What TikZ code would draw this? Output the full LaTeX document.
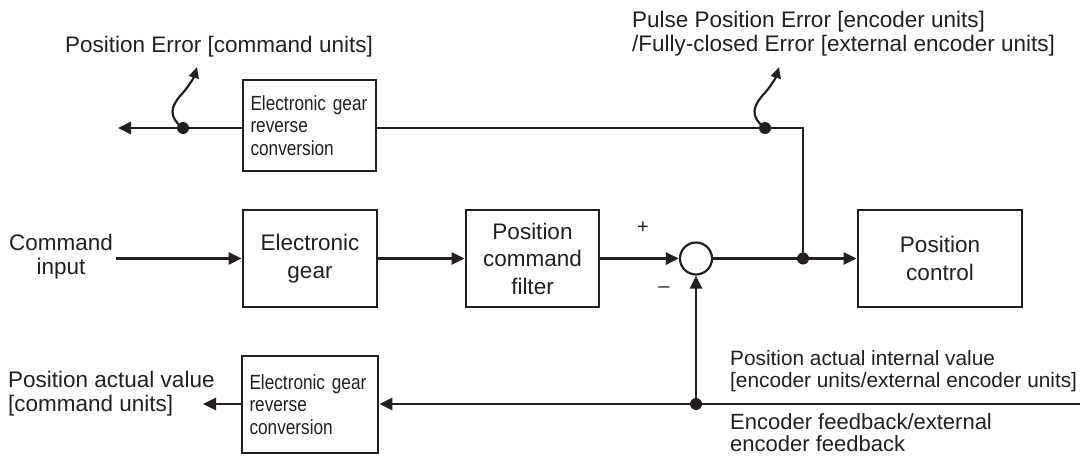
\documentclass[tikz,border=0pt]{standalone}
\usepackage{fontspec}
\setmainfont{Liberation Sans}
\newfontfamily\narrowfont[FakeStretch=0.84]{Liberation Sans}
\usetikzlibrary{arrows.meta}
\definecolor{ink}{HTML}{231F20}
\begin{document}
\begin{tikzpicture}[x=1pt,y=-1pt,
  every node/.style={text=ink},
  ln/.style={draw=ink,line width=2.8pt},
  arr/.style={ln,-{Triangle[length=13pt,width=12pt]}},
  sq/.style={draw=ink,line width=2.2pt,-{Triangle[length=11pt,width=10pt]}},
  blockbox/.style={draw=ink,line width=2.8pt,inner sep=0pt,align=center,
    font=\fontsize{22.5}{27.5}\selectfont},
  smallbox/.style={draw=ink,line width=2.8pt,inner sep=0pt,align=left,
    font=\narrowfont\fontsize{20.5}{22.5}\selectfont},
  lbl/.style={inner sep=0pt,font=\fontsize{22.5}{24}\selectfont},
  jdot/.style={circle,fill=ink,inner sep=0pt,minimum size=12pt},
]
\useasboundingbox (0,0) rectangle (1086,466);

% main row blocks
\node[blockbox,minimum width=134pt,minimum height=97pt] (eg) at (310,258.5) {Electronic\\gear};
\node[blockbox,minimum width=133pt,minimum height=97pt] (pcf) at (532.5,258.5) {Position\\command\\filter};
\node[blockbox,minimum width=164pt,minimum height=97pt] (pc) at (940,258.5) {Position\\control};
\node[circle,draw=ink,line width=2.2pt,minimum size=32pt,inner sep=0pt] (sum) at (696,258.5) {};

% reverse conversion blocks
\node[smallbox,minimum width=133pt,minimum height=91pt,text width=118pt] (topbox) at (309.5,125.5) {Electronic gear\\reverse\\conversion};
\node[smallbox,minimum width=136pt,minimum height=97pt,text width=121pt] (botbox) at (310,404.5) {Electronic gear\\reverse\\conversion};

% coordinates
\coordinate (ci) at (116,258.5);
\coordinate (tl) at (118,128);
\coordinate (tc) at (803,128);
\coordinate (fbend) at (1080,404);
\coordinate (bl) at (203,404);
\node[jdot] (j1) at (803,258.5) {};
\node[jdot] (j2) at (696,404) {};
\node[jdot] (p1) at (183,128) {};
\node[jdot] (p2) at (765,128) {};

% main connectors
\draw[arr] (ci) -- (eg.west);
\draw[arr] (eg.east) -- (pcf.west);
\draw[arr] (pcf.east) -- (sum.west);
\draw[ln] (sum.east) -- (j1.center);
\draw[arr] (j1.center) -- (pc.west);
\draw[ln] (j1.center) -- (tc) -- (topbox.east |- tc);
\draw[arr] (topbox.west |- tl) -- (tl);
\draw[arr] (fbend) -- (botbox.east |- fbend);
\draw[arr] (j2.center) -- (sum.south);
\draw[arr] (botbox.west |- bl) -- (bl);

% squiggle taps
\draw[sq] (p1.center) .. controls +(-16,-12) and +(-8,10) .. ++(-3,-32)
  .. controls +(8,-8) and +(-3,10) .. ++(17,-29);
\draw[sq] (p2.center) .. controls +(-16,-12) and +(-8,10) .. ++(-3,-32)
  .. controls +(8,-8) and +(-3,10) .. ++(17,-29);

% labels
\node[lbl,align=center] (cmdin) at (61,256.5) {Command\\input};
\node[lbl,anchor=west] (perr) at (65,47) {Position Error [command units]};
\node[lbl,anchor=west,align=left] (pperr) at (632,34) {Pulse Position Error [encoder units]\\/Fully-closed Error [external encoder units]};
\node[lbl,anchor=west,align=left,font=\fontsize{20.8}{22}\selectfont] (pint) at (730,371) {Position actual internal value\\{}[encoder units/external encoder units]};
\node[lbl,anchor=west,align=left,font=\fontsize{22}{21.5}\selectfont] (encfb) at (730,432.5) {Encoder feedback/external\\encoder feedback};
\node[lbl,anchor=west,align=left] (pact) at (8,394) {Position actual value\\{}[command units]};
\node[inner sep=0pt,font=\fontsize{20}{20}\selectfont] (plus) at (643,228) {+};
\node[inner sep=0pt,font=\fontsize{20}{20}\selectfont] (minus) at (664,290) {–};
\end{tikzpicture}
\end{document}
